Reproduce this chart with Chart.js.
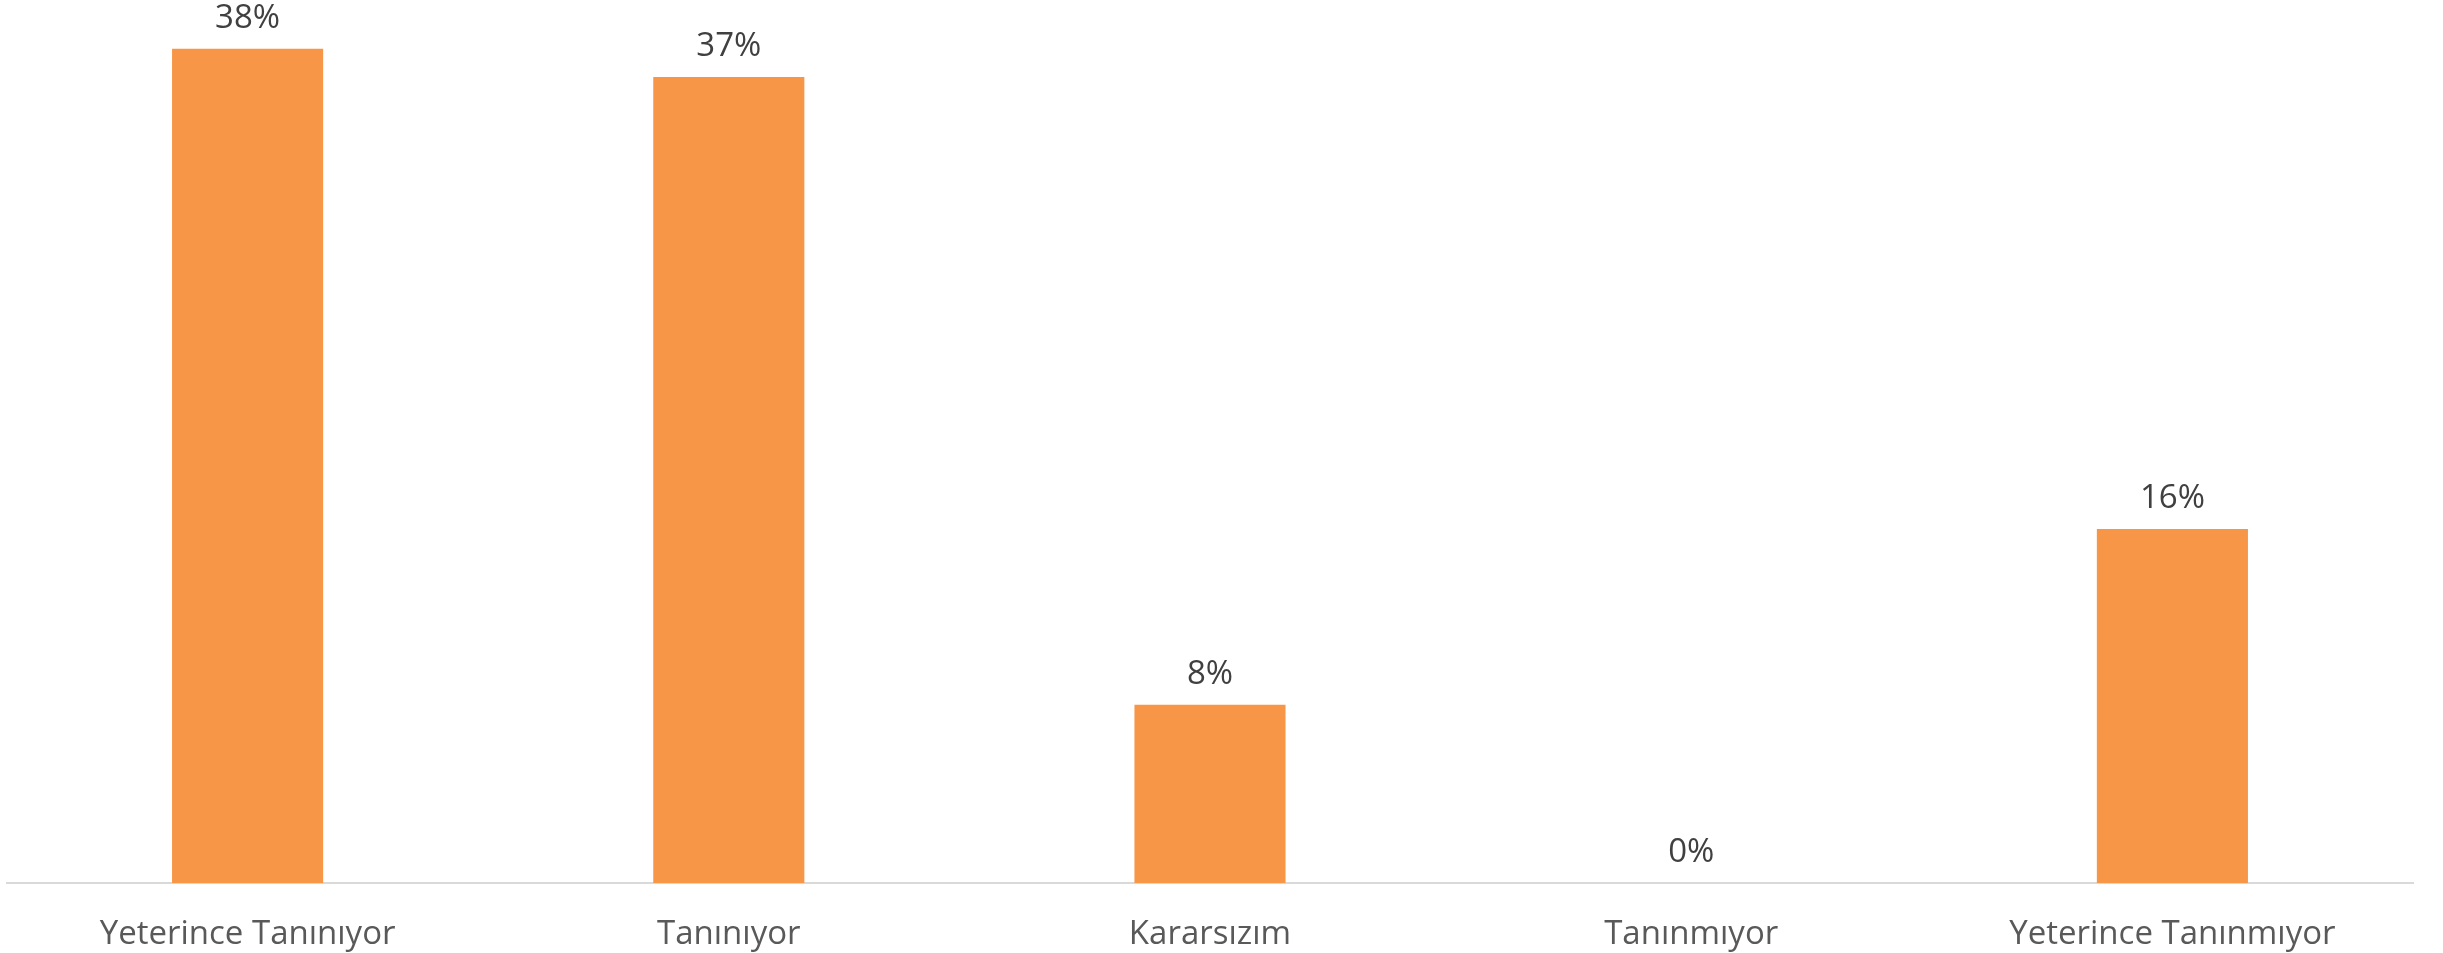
<!DOCTYPE html>
<html>
<head>
<meta charset="utf-8">
<script src="https://cdn.jsdelivr.net/npm/chart.js@4"></script>
<style>
  html, body { margin: 0; padding: 0; background: #fff; }
  canvas { display: block; }
</style>
</head>
<body>
<canvas id="c" width="2443" height="953"></canvas>
<script>
// Dağılım (%) · kategori başına tek seri
const kategoriler = ['Yeterince Tanınıyor', 'Tanınıyor', 'Kararsızım', 'Tanınmıyor', 'Yeterince Tanınmıyor'];
const oranlar = [38.4, 37.1, 8.2, 0, 16.3];
const etiketler = ['38%', '37%', '8%', '0%', '16%'];

// Değer etiketleri (datalabels eklentisi yok, elle çiziliyor)
const degerEtiketi = {
  id: 'degerEtiketi',
  afterDatasetsDraw(chart) {
    const ctx = chart.ctx;
    const meta = chart.getDatasetMeta(0);
    ctx.save();
    ctx.font = '33px "Open Sans"';
    ctx.fillStyle = '#404040';
    ctx.textAlign = 'center';
    ctx.textBaseline = 'bottom';
    meta.data.forEach((bar, i) => {
      ctx.fillText(etiketler[i], bar.x, bar.y - 14);
    });
    ctx.restore();
  }
};

new Chart(document.getElementById('c'), {
  type: 'bar',
  data: {
    labels: kategoriler,
    datasets: [{
      data: oranlar,
      backgroundColor: '#f79646',
      categoryPercentage: 1,
      barPercentage: 0.314,
    }],
  },
  options: {
    responsive: false,
    animation: false,
    layout: { padding: { left: 7, right: 30, top: 14, bottom: 0 } },
    plugins: { legend: { display: false }, tooltip: { enabled: false } },
    scales: {
      x: {
        grid: { display: false, drawTicks: false },
        border: { color: '#d9d9d9', width: 2 },
        ticks: { color: '#595959', font: { family: 'Open Sans', size: 33 }, padding: 32, maxRotation: 0, autoSkip: false },
        afterFit(scale) { scale.height = 70; },
      },
      y: { display: false, min: 0, max: 40 },
    },
  },
  plugins: [degerEtiketi],
});
</script>
</body>
</html>
